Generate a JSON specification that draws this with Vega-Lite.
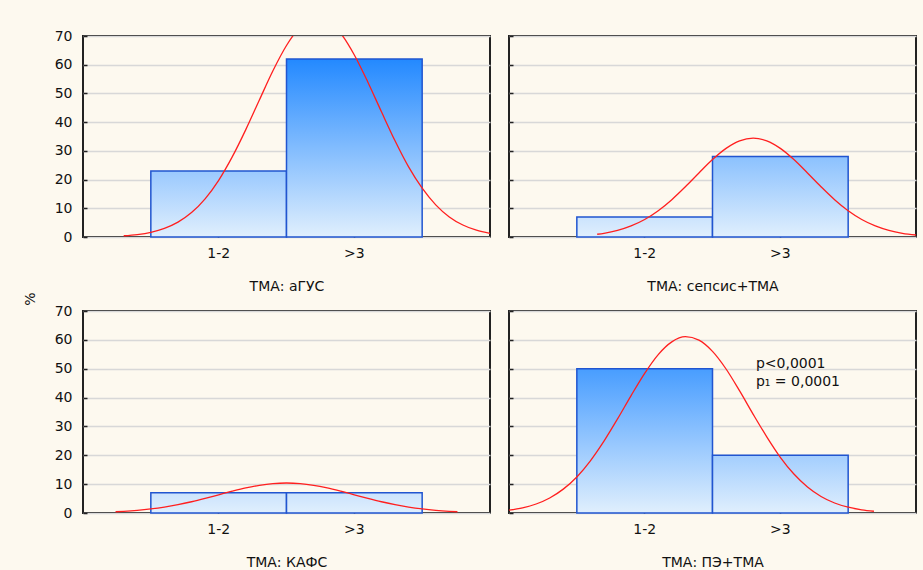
{
  "$schema": "https://vega.github.io/schema/vega-lite/v6.json",
  "background": "#fdf9ef",
  "padding": {"left": 24, "top": 28, "right": 7, "bottom": 0},
  "title": {"text": "%", "orient": "left", "anchor": "middle", "fontSize": 14, "fontWeight": "normal", "color": "#111", "offset": 15},
  "datasets": {
    "bars": [
      {"panel": "аГУС", "group": "1-2", "pct": 23},
      {"panel": "аГУС", "group": ">3", "pct": 62},
      {"panel": "сепсис+ТМА", "group": "1-2", "pct": 7},
      {"panel": "сепсис+ТМА", "group": ">3", "pct": 28},
      {"panel": "КАФС", "group": "1-2", "pct": 7},
      {"panel": "КАФС", "group": ">3", "pct": 7},
      {"panel": "ПЭ+ТМА", "group": "1-2", "pct": 50},
      {"panel": "ПЭ+ТМА", "group": ">3", "pct": 20}
    ],
    "curve": [
      {"panel": "аГУС", "xv": 0.3, "yv": 0.43},
      {"panel": "аГУС", "xv": 0.4, "yv": 0.86},
      {"panel": "аГУС", "xv": 0.5, "yv": 1.64},
      {"panel": "аГУС", "xv": 0.6, "yv": 2.99},
      {"panel": "аГУС", "xv": 0.7, "yv": 5.18},
      {"panel": "аГУС", "xv": 0.8, "yv": 8.51},
      {"panel": "аГУС", "xv": 0.9, "yv": 13.3},
      {"panel": "аГУС", "xv": 1.0, "yv": 19.75},
      {"panel": "аГУС", "xv": 1.1, "yv": 27.9},
      {"panel": "аГУС", "xv": 1.2, "yv": 37.4},
      {"panel": "аГУС", "xv": 1.3, "yv": 47.7},
      {"panel": "аГУС", "xv": 1.4, "yv": 57.9},
      {"panel": "аГУС", "xv": 1.5, "yv": 66.7},
      {"panel": "аГУС", "xv": 1.6, "yv": 73.1},
      {"panel": "аГУС", "xv": 1.7, "yv": 76.1},
      {"panel": "аГУС", "xv": 1.8, "yv": 75.4},
      {"panel": "аГУС", "xv": 1.9, "yv": 70.9},
      {"panel": "аГУС", "xv": 2.0, "yv": 63.4},
      {"panel": "аГУС", "xv": 2.1, "yv": 53.9},
      {"panel": "аГУС", "xv": 2.2, "yv": 43.6},
      {"panel": "аГУС", "xv": 2.3, "yv": 33.5},
      {"panel": "аГУС", "xv": 2.4, "yv": 24.4},
      {"panel": "аГУС", "xv": 2.5, "yv": 17.0},
      {"panel": "аГУС", "xv": 2.6, "yv": 11.2},
      {"panel": "аГУС", "xv": 2.7, "yv": 7.0},
      {"panel": "аГУС", "xv": 2.8, "yv": 4.18},
      {"panel": "аГУС", "xv": 2.9, "yv": 2.37},
      {"panel": "аГУС", "xv": 3.0, "yv": 1.28},
      {"panel": "сепсис+ТМА", "xv": 0.65, "yv": 0.96},
      {"panel": "сепсис+ТМА", "xv": 0.7, "yv": 1.3},
      {"panel": "сепсис+ТМА", "xv": 0.8, "yv": 2.3},
      {"panel": "сепсис+ТМА", "xv": 0.9, "yv": 3.85},
      {"panel": "сепсис+ТМА", "xv": 1.0, "yv": 6.09},
      {"panel": "сепсис+ТМА", "xv": 1.1, "yv": 9.14},
      {"panel": "сепсис+ТМА", "xv": 1.2, "yv": 13.0},
      {"panel": "сепсис+ТМА", "xv": 1.3, "yv": 17.5},
      {"panel": "сепсис+ТМА", "xv": 1.4, "yv": 22.3},
      {"panel": "сепсис+ТМА", "xv": 1.5, "yv": 26.97},
      {"panel": "сепсис+ТМА", "xv": 1.6, "yv": 30.87},
      {"panel": "сепсис+ТМА", "xv": 1.7, "yv": 33.48},
      {"panel": "сепсис+ТМА", "xv": 1.8, "yv": 34.4},
      {"panel": "сепсис+ТМА", "xv": 1.9, "yv": 33.48},
      {"panel": "сепсис+ТМА", "xv": 2.0, "yv": 30.87},
      {"panel": "сепсис+ТМА", "xv": 2.1, "yv": 26.97},
      {"panel": "сепсис+ТМА", "xv": 2.2, "yv": 22.3},
      {"panel": "сепсис+ТМА", "xv": 2.3, "yv": 17.5},
      {"panel": "сепсис+ТМА", "xv": 2.4, "yv": 13.0},
      {"panel": "сепсис+ТМА", "xv": 2.5, "yv": 9.14},
      {"panel": "сепсис+ТМА", "xv": 2.6, "yv": 6.09},
      {"panel": "сепсис+ТМА", "xv": 2.7, "yv": 3.85},
      {"panel": "сепсис+ТМА", "xv": 2.8, "yv": 2.3},
      {"panel": "сепсис+ТМА", "xv": 2.9, "yv": 1.3},
      {"panel": "сепсис+ТМА", "xv": 3.0, "yv": 0.7},
      {"panel": "КАФС", "xv": 0.24, "yv": 0.43},
      {"panel": "КАФС", "xv": 0.3, "yv": 0.58},
      {"panel": "КАФС", "xv": 0.4, "yv": 0.92},
      {"panel": "КАФС", "xv": 0.5, "yv": 1.41},
      {"panel": "КАФС", "xv": 0.6, "yv": 2.06},
      {"panel": "КАФС", "xv": 0.7, "yv": 2.89},
      {"panel": "КАФС", "xv": 0.8, "yv": 3.9},
      {"panel": "КАФС", "xv": 0.9, "yv": 5.06},
      {"panel": "КАФС", "xv": 1.0, "yv": 6.31},
      {"panel": "КАФС", "xv": 1.1, "yv": 7.55},
      {"panel": "КАФС", "xv": 1.2, "yv": 8.69},
      {"panel": "КАФС", "xv": 1.3, "yv": 9.6},
      {"panel": "КАФС", "xv": 1.4, "yv": 10.19},
      {"panel": "КАФС", "xv": 1.5, "yv": 10.4},
      {"panel": "КАФС", "xv": 1.6, "yv": 10.19},
      {"panel": "КАФС", "xv": 1.7, "yv": 9.6},
      {"panel": "КАФС", "xv": 1.8, "yv": 8.69},
      {"panel": "КАФС", "xv": 1.9, "yv": 7.55},
      {"panel": "КАФС", "xv": 2.0, "yv": 6.31},
      {"panel": "КАФС", "xv": 2.1, "yv": 5.06},
      {"panel": "КАФС", "xv": 2.2, "yv": 3.9},
      {"panel": "КАФС", "xv": 2.3, "yv": 2.89},
      {"panel": "КАФС", "xv": 2.4, "yv": 2.06},
      {"panel": "КАФС", "xv": 2.5, "yv": 1.41},
      {"panel": "КАФС", "xv": 2.6, "yv": 0.92},
      {"panel": "КАФС", "xv": 2.7, "yv": 0.58},
      {"panel": "КАФС", "xv": 2.76, "yv": 0.43},
      {"panel": "ПЭ+ТМА", "xv": 0.0, "yv": 0.97},
      {"panel": "ПЭ+ТМА", "xv": 0.1, "yv": 1.78},
      {"panel": "ПЭ+ТМА", "xv": 0.2, "yv": 3.12},
      {"panel": "ПЭ+ТМА", "xv": 0.3, "yv": 5.2},
      {"panel": "ПЭ+ТМА", "xv": 0.4, "yv": 8.27},
      {"panel": "ПЭ+ТМА", "xv": 0.5, "yv": 12.5},
      {"panel": "ПЭ+ТМА", "xv": 0.6, "yv": 18.1},
      {"panel": "ПЭ+ТМА", "xv": 0.7, "yv": 24.9},
      {"panel": "ПЭ+ТМА", "xv": 0.8, "yv": 32.6},
      {"panel": "ПЭ+ТМА", "xv": 0.9, "yv": 40.7},
      {"panel": "ПЭ+ТМА", "xv": 1.0, "yv": 48.4},
      {"panel": "ПЭ+ТМА", "xv": 1.1, "yv": 54.9},
      {"panel": "ПЭ+ТМА", "xv": 1.2, "yv": 59.3},
      {"panel": "ПЭ+ТМА", "xv": 1.3, "yv": 61.1},
      {"panel": "ПЭ+ТМА", "xv": 1.4, "yv": 59.9},
      {"panel": "ПЭ+ТМА", "xv": 1.5, "yv": 56.0},
      {"panel": "ПЭ+ТМА", "xv": 1.6, "yv": 49.9},
      {"panel": "ПЭ+ТМА", "xv": 1.7, "yv": 42.3},
      {"panel": "ПЭ+ТМА", "xv": 1.8, "yv": 34.2},
      {"panel": "ПЭ+ТМА", "xv": 1.9, "yv": 26.4},
      {"panel": "ПЭ+ТМА", "xv": 2.0, "yv": 19.3},
      {"panel": "ПЭ+ТМА", "xv": 2.1, "yv": 13.5},
      {"panel": "ПЭ+ТМА", "xv": 2.2, "yv": 9.02},
      {"panel": "ПЭ+ТМА", "xv": 2.3, "yv": 5.73},
      {"panel": "ПЭ+ТМА", "xv": 2.4, "yv": 3.46},
      {"panel": "ПЭ+ТМА", "xv": 2.5, "yv": 2.0},
      {"panel": "ПЭ+ТМА", "xv": 2.6, "yv": 1.1},
      {"panel": "ПЭ+ТМА", "xv": 2.69, "yv": 0.61}
    ]
  },
  "spacing": 9,
  "vconcat": [
    {
      "spacing": 16,
      "hconcat": [
        {
          "width": 407, "height": 201,
          "resolve": {"scale": {"x": "independent"}},
          "layer": [
            {
              "layer": [
                {
                  "data": {"name": "bars"},
                  "transform": [{"filter": "datum.panel === 'аГУС' && datum.group === '1-2'"}],
                  "mark": {"type": "bar", "stroke": "#2155d0", "strokeWidth": 1.5, "fill": {"gradient": "linear", "x1": 0, "y1": 0, "x2": 0, "y2": 1, "stops": [{"offset": 0, "color": "#9ac9fe"}, {"offset": 1, "color": "#e0effd"}]}},
                  "encoding": {
                    "x": {"field": "group", "type": "nominal", "scale": {"domain": ["1-2", ">3"], "paddingInner": 0, "paddingOuter": 0.5}, "axis": {"title": "ТМА: аГУС"}},
                    "y": {"field": "pct", "type": "quantitative", "scale": {"domain": [0, 70], "nice": false}}
                  }
                },
                {
                  "data": {"name": "bars"},
                  "transform": [{"filter": "datum.panel === 'аГУС' && datum.group === '>3'"}],
                  "mark": {"type": "bar", "stroke": "#2155d0", "strokeWidth": 1.5, "fill": {"gradient": "linear", "x1": 0, "y1": 0, "x2": 0, "y2": 1, "stops": [{"offset": 0, "color": "#2389ff"}, {"offset": 1, "color": "#e0effd"}]}},
                  "encoding": {
                    "x": {"field": "group", "type": "nominal", "scale": {"domain": ["1-2", ">3"], "paddingInner": 0, "paddingOuter": 0.5}, "axis": {"title": "ТМА: аГУС"}},
                    "y": {"field": "pct", "type": "quantitative", "scale": {"domain": [0, 70], "nice": false}}
                  }
                }
              ]
            },
            {
              "data": {"name": "curve"},
              "transform": [{"filter": "datum.panel === 'аГУС'"}],
              "mark": {"type": "line", "color": "#ff1f1f", "strokeWidth": 1.3, "interpolate": "monotone", "clip": true},
              "encoding": {
                "x": {"field": "xv", "type": "quantitative", "scale": {"domain": [0, 3], "nice": false, "zero": false}, "axis": null},
                "y": {"field": "yv", "type": "quantitative", "scale": {"domain": [0, 70], "nice": false}}
              }
            }
          ]
        },
        {
          "width": 407, "height": 201,
          "resolve": {"scale": {"x": "independent"}},
          "layer": [
            {
              "layer": [
                {
                  "data": {"name": "bars"},
                  "transform": [{"filter": "datum.panel === 'сепсис+ТМА' && datum.group === '1-2'"}],
                  "mark": {"type": "bar", "stroke": "#2155d0", "strokeWidth": 1.5, "fill": {"gradient": "linear", "x1": 0, "y1": 0, "x2": 0, "y2": 1, "stops": [{"offset": 0, "color": "#cbe3fd"}, {"offset": 1, "color": "#e0effd"}]}},
                  "encoding": {
                    "x": {"field": "group", "type": "nominal", "scale": {"domain": ["1-2", ">3"], "paddingInner": 0, "paddingOuter": 0.5}, "axis": {"title": "ТМА: сепсис+ТМА"}},
                    "y": {"field": "pct", "type": "quantitative", "scale": {"domain": [0, 70], "nice": false}, "axis": {"labels": false}}
                  }
                },
                {
                  "data": {"name": "bars"},
                  "transform": [{"filter": "datum.panel === 'сепсис+ТМА' && datum.group === '>3'"}],
                  "mark": {"type": "bar", "stroke": "#2155d0", "strokeWidth": 1.5, "fill": {"gradient": "linear", "x1": 0, "y1": 0, "x2": 0, "y2": 1, "stops": [{"offset": 0, "color": "#8bc1fe"}, {"offset": 1, "color": "#e0effd"}]}},
                  "encoding": {
                    "x": {"field": "group", "type": "nominal", "scale": {"domain": ["1-2", ">3"], "paddingInner": 0, "paddingOuter": 0.5}, "axis": {"title": "ТМА: сепсис+ТМА"}},
                    "y": {"field": "pct", "type": "quantitative", "scale": {"domain": [0, 70], "nice": false}, "axis": {"labels": false}}
                  }
                }
              ]
            },
            {
              "data": {"name": "curve"},
              "transform": [{"filter": "datum.panel === 'сепсис+ТМА'"}],
              "mark": {"type": "line", "color": "#ff1f1f", "strokeWidth": 1.3, "interpolate": "monotone", "clip": true},
              "encoding": {
                "x": {"field": "xv", "type": "quantitative", "scale": {"domain": [0, 3], "nice": false, "zero": false}, "axis": null},
                "y": {"field": "yv", "type": "quantitative", "scale": {"domain": [0, 70], "nice": false}, "axis": {"labels": false}}
              }
            }
          ]
        }
      ]
    },
    {
      "spacing": 16,
      "hconcat": [
        {
          "width": 407, "height": 202,
          "resolve": {"scale": {"x": "independent"}},
          "layer": [
            {
              "layer": [
                {
                  "data": {"name": "bars"},
                  "transform": [{"filter": "datum.panel === 'КАФС' && datum.group === '1-2'"}],
                  "mark": {"type": "bar", "stroke": "#2155d0", "strokeWidth": 1.5, "fill": {"gradient": "linear", "x1": 0, "y1": 0, "x2": 0, "y2": 1, "stops": [{"offset": 0, "color": "#cbe3fd"}, {"offset": 1, "color": "#e0effd"}]}},
                  "encoding": {
                    "x": {"field": "group", "type": "nominal", "scale": {"domain": ["1-2", ">3"], "paddingInner": 0, "paddingOuter": 0.5}, "axis": {"title": "ТМА: КАФС"}},
                    "y": {"field": "pct", "type": "quantitative", "scale": {"domain": [0, 70], "nice": false}}
                  }
                },
                {
                  "data": {"name": "bars"},
                  "transform": [{"filter": "datum.panel === 'КАФС' && datum.group === '>3'"}],
                  "mark": {"type": "bar", "stroke": "#2155d0", "strokeWidth": 1.5, "fill": {"gradient": "linear", "x1": 0, "y1": 0, "x2": 0, "y2": 1, "stops": [{"offset": 0, "color": "#cbe3fd"}, {"offset": 1, "color": "#e0effd"}]}},
                  "encoding": {
                    "x": {"field": "group", "type": "nominal", "scale": {"domain": ["1-2", ">3"], "paddingInner": 0, "paddingOuter": 0.5}, "axis": {"title": "ТМА: КАФС"}},
                    "y": {"field": "pct", "type": "quantitative", "scale": {"domain": [0, 70], "nice": false}}
                  }
                }
              ]
            },
            {
              "data": {"name": "curve"},
              "transform": [{"filter": "datum.panel === 'КАФС'"}],
              "mark": {"type": "line", "color": "#ff1f1f", "strokeWidth": 1.3, "interpolate": "monotone", "clip": true},
              "encoding": {
                "x": {"field": "xv", "type": "quantitative", "scale": {"domain": [0, 3], "nice": false, "zero": false}, "axis": null},
                "y": {"field": "yv", "type": "quantitative", "scale": {"domain": [0, 70], "nice": false}}
              }
            }
          ]
        },
        {
          "width": 407, "height": 202,
          "resolve": {"scale": {"x": "independent"}},
          "layer": [
            {
              "layer": [
                {
                  "data": {"name": "bars"},
                  "transform": [{"filter": "datum.panel === 'ПЭ+ТМА' && datum.group === '1-2'"}],
                  "mark": {"type": "bar", "stroke": "#2155d0", "strokeWidth": 1.5, "fill": {"gradient": "linear", "x1": 0, "y1": 0, "x2": 0, "y2": 1, "stops": [{"offset": 0, "color": "#489dff"}, {"offset": 1, "color": "#e0effd"}]}},
                  "encoding": {
                    "x": {"field": "group", "type": "nominal", "scale": {"domain": ["1-2", ">3"], "paddingInner": 0, "paddingOuter": 0.5}, "axis": {"title": "ТМА: ПЭ+ТМА"}},
                    "y": {"field": "pct", "type": "quantitative", "scale": {"domain": [0, 70], "nice": false}, "axis": {"labels": false}}
                  }
                },
                {
                  "data": {"name": "bars"},
                  "transform": [{"filter": "datum.panel === 'ПЭ+ТМА' && datum.group === '>3'"}],
                  "mark": {"type": "bar", "stroke": "#2155d0", "strokeWidth": 1.5, "fill": {"gradient": "linear", "x1": 0, "y1": 0, "x2": 0, "y2": 1, "stops": [{"offset": 0, "color": "#a3cefe"}, {"offset": 1, "color": "#e0effd"}]}},
                  "encoding": {
                    "x": {"field": "group", "type": "nominal", "scale": {"domain": ["1-2", ">3"], "paddingInner": 0, "paddingOuter": 0.5}, "axis": {"title": "ТМА: ПЭ+ТМА"}},
                    "y": {"field": "pct", "type": "quantitative", "scale": {"domain": [0, 70], "nice": false}, "axis": {"labels": false}}
                  }
                }
              ]
            },
            {
              "layer": [
                {
                  "data": {"name": "curve"},
                  "transform": [{"filter": "datum.panel === 'ПЭ+ТМА'"}],
                  "mark": {"type": "line", "color": "#ff1f1f", "strokeWidth": 1.3, "interpolate": "monotone", "clip": true},
                  "encoding": {
                    "x": {"field": "xv", "type": "quantitative", "scale": {"domain": [0, 3], "nice": false, "zero": false}, "axis": null},
                    "y": {"field": "yv", "type": "quantitative", "scale": {"domain": [0, 70], "nice": false}, "axis": {"labels": false}}
                  }
                },
                {
                  "data": {"values": [{"note": "p"}]},
                  "mark": {"type": "text", "text": ["p<0,0001", "p₁ = 0,0001"], "align": "left", "baseline": "alphabetic", "fontSize": 14, "lineHeight": 18, "color": "#111"},
                  "encoding": {
                    "x": {"datum": 1.82, "type": "quantitative"},
                    "y": {"datum": 50.2, "type": "quantitative"}
                  }
                }
              ]
            }
          ]
        }
      ]
    }
  ],
  "config": {
    "font": "DejaVu Sans",
    "view": {"stroke": "#222", "strokeWidth": 2},
    "axis": {"labelFont": "DejaVu Sans", "labelFontSize": 14, "labelColor": "#111", "titleFont": "DejaVu Sans", "titleFontSize": 14, "titleFontWeight": "normal", "titleColor": "#111", "domain": false, "ticks": true, "tickSize": -4, "tickColor": "#222", "tickWidth": 1.5, "grid": false},
    "axisY": {"grid": true, "gridColor": "#d8d8d8", "gridWidth": 1.5, "values": [0, 10, 20, 30, 40, 50, 60, 70], "labelPadding": 15, "title": null},
    "axisX": {"labelPadding": 13, "titlePadding": 19, "labelAngle": 0}
  }
}
